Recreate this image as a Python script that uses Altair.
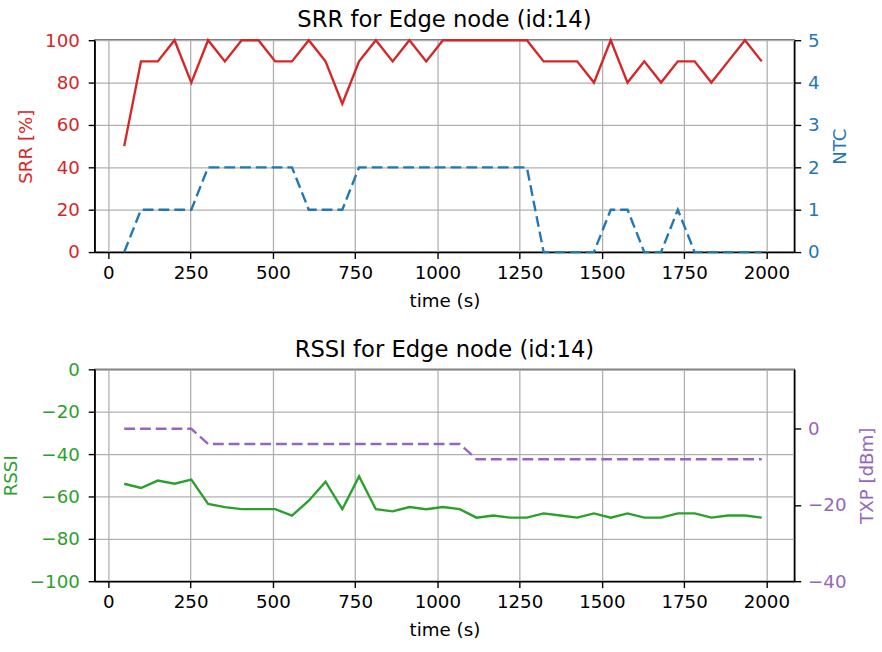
import altair as alt
import pandas as pd

# ---- data ----
time_s = [48, 99, 150, 201, 252, 303, 354, 405, 456, 507, 558, 609, 660, 711, 762,
          813, 864, 915, 966, 1017, 1068, 1119, 1170, 1221, 1272, 1323, 1374, 1425,
          1476, 1527, 1578, 1629, 1680, 1731, 1782, 1833, 1884, 1935, 1986]
srr = [50, 90, 90, 100, 80, 100, 90, 100, 100, 90, 90, 100, 90, 70, 90, 100, 90, 100,
       90, 100, 100, 100, 100, 100, 100, 90, 90, 90, 80, 100, 80, 90, 80, 90, 90, 80,
       90, 100, 90]
ntc = [0, 1, 1, 1, 1, 2, 2, 2, 2, 2, 2, 1, 1, 1, 2, 2, 2, 2, 2, 2, 2, 2, 2, 2, 2,
       0, 0, 0, 0, 1, 1, 0, 0, 1, 0, 0, 0, 0, 0]
rssi = [-54, -56, -52.5, -54, -52, -63.5, -65, -66, -66, -66, -69, -62, -53, -66,
        -50.5, -66, -67, -65, -66, -65, -66, -70, -69, -70, -70, -68, -69, -70, -68,
        -70, -68, -70, -70, -68, -68, -70, -69, -69, -70]
txp = [0, 0, 0, 0, 0, -4, -4, -4, -4, -4, -4, -4, -4, -4, -4, -4, -4, -4, -4, -4, -4,
       -8, -8, -8, -8, -8, -8, -8, -8, -8, -8, -8, -8, -8, -8, -8, -8, -8, -8]

x_ticks = [0, 250, 500, 750, 1000, 1250, 1500, 1750, 2000]
srr_ticks = [0, 20, 40, 60, 80, 100]
ntc_ticks = [0, 1, 2, 3, 4, 5]
rssi_ticks = [-100, -80, -60, -40, -20, 0]
txp_ticks = [-40, -20, 0]

df = pd.DataFrame({"time": time_s, "srr": srr, "ntc": ntc, "rssi": rssi, "txp": txp})

RED = "#d62728"
BLUE = "#1f77b4"
GREEN = "#2ca02c"
PURPLE = "#9467bd"
FONT = "DejaVu Sans"
X_DOM = [-42, 2085]
W, H = 710, 215
LW = 2.4
DASH = [11, 5]
FS = 18.5


def x_enc():
    return alt.X("time:Q",
                 scale=alt.Scale(domain=X_DOM, nice=False, zero=False),
                 axis=alt.Axis(values=x_ticks, title="time (s)", grid=True, format="d",
                               labelPadding=5, titlePadding=10))


def left_axis(title, ticks, color):
    return alt.Axis(title=title, values=ticks, format="d", labelColor=color,
                    titleColor=color, grid=True, orient="left", titlePadding=9,
                    labelPadding=9)


def right_axis(title, ticks, color):
    return alt.Axis(title=title, values=ticks, format="d", labelColor=color,
                    titleColor=color, grid=False, orient="right", titleAngle=270,
                    titleBaseline="top", titlePadding=12, labelPadding=7)


srr_line = alt.Chart(df).mark_line(color=RED, strokeWidth=LW).encode(
    x=x_enc(),
    y=alt.Y("srr:Q", scale=alt.Scale(domain=[0, 100], nice=False),
            axis=left_axis("SRR [%]", srr_ticks, RED)),
)
ntc_line = alt.Chart(df).mark_line(color=BLUE, strokeWidth=LW, strokeDash=DASH).encode(
    x=x_enc(),
    y=alt.Y("ntc:Q", scale=alt.Scale(domain=[0, 5], nice=False),
            axis=right_axis("NTC", ntc_ticks, BLUE)),
)
top = alt.layer(srr_line, ntc_line).resolve_scale(y="independent").properties(
    width=W, height=H, title=alt.TitleParams("SRR for Edge node (id:14)"))

rssi_line = alt.Chart(df).mark_line(color=GREEN, strokeWidth=LW).encode(
    x=x_enc(),
    y=alt.Y("rssi:Q", scale=alt.Scale(domain=[-100, 0], nice=False),
            axis=left_axis("RSSI", rssi_ticks, GREEN)),
)
txp_line = alt.Chart(df).mark_line(color=PURPLE, strokeWidth=LW, strokeDash=DASH).encode(
    x=x_enc(),
    y=alt.Y("txp:Q", scale=alt.Scale(domain=[-40, 15.6], nice=False, zero=False),
            axis=right_axis("TXP [dBm]", txp_ticks, PURPLE)),
)
bottom = alt.layer(rssi_line, txp_line).resolve_scale(y="independent").properties(
    width=W, height=H, title=alt.TitleParams("RSSI for Edge node (id:14)"))

chart = alt.vconcat(top, bottom, spacing=27).properties(
    padding={"left": 0, "top": 4, "right": 5, "bottom": 5},
    background="white",
).configure_view(
    stroke="black", strokeWidth=1.4
).configure_axis(
    labelFont=FONT, titleFont=FONT, labelFontSize=FS, titleFontSize=FS,
    titleFontWeight="normal", labelColor="black", titleColor="black",
    tickColor="black", domainColor="black", domainWidth=1.4, tickSize=6.5, tickWidth=1.4,
    gridColor="#b0b0b0", gridWidth=1.3, labelPadding=5
).configure_title(
    font=FONT, fontSize=23, fontWeight="normal", color="black", offset=-1,
    anchor="middle"
)

chart.save("out.html", embed_options={"renderer": "svg", "actions": False})
